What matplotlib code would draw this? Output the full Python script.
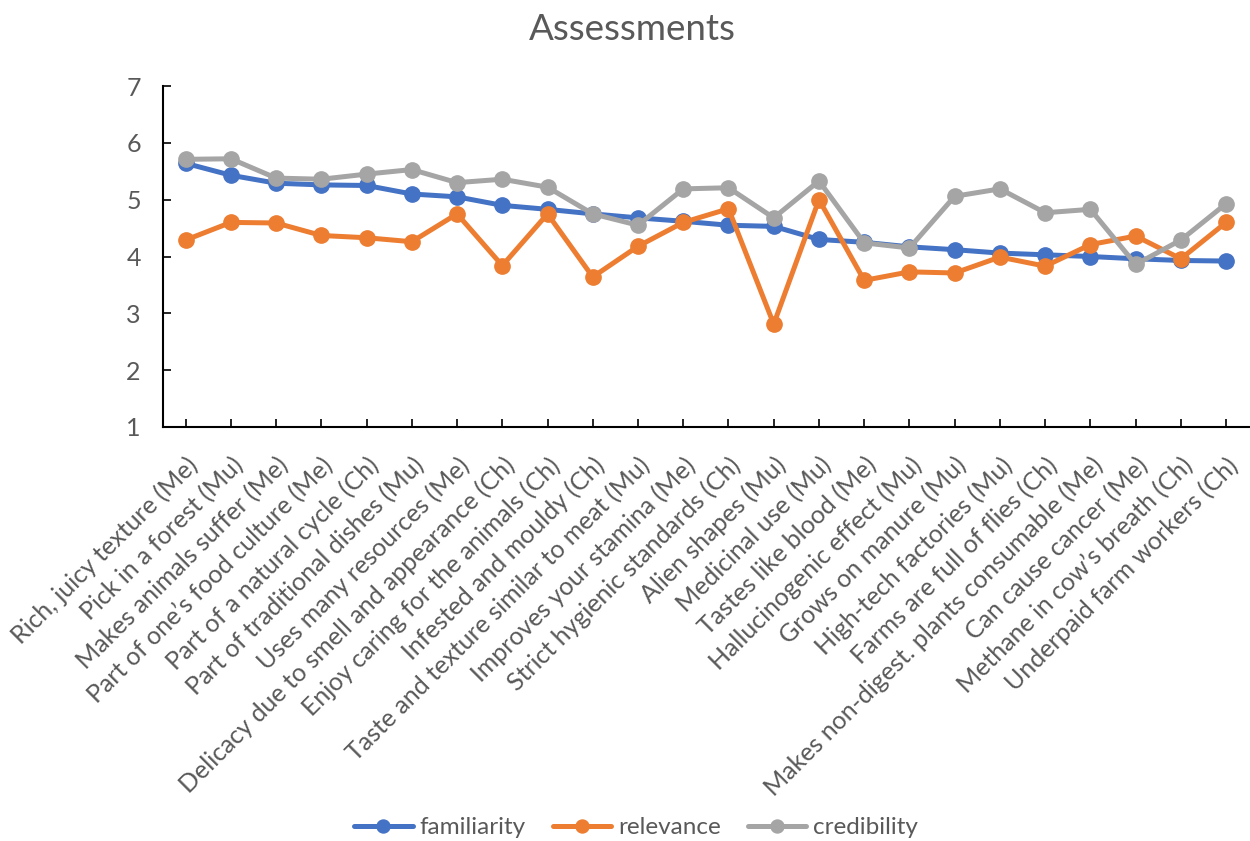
import matplotlib
matplotlib.use("Agg")
import matplotlib.pyplot as plt
import numpy as np

# === DATA ===
categories = [
    "Rich, juicy texture (Me)", "Pick in a forest (Mu)", "Makes animals suffer (Me)",
    "Part of one\u2019s food culture (Me)", "Part of a natural cycle (Ch)",
    "Part of traditional dishes (Mu)", "Uses many resources (Me)",
    "Delicacy due to smell and appearance (Ch)", "Enjoy caring for the animals (Ch)",
    "Infested and mouldy (Ch)", "Taste and texture similar to meat (Mu)",
    "Improves your stamina (Me)", "Strict hygienic standards (Ch)", "Alien shapes (Mu)",
    "Medicinal use (Mu)", "Tastes like blood (Me)", "Hallucinogenic effect (Mu)",
    "Grows on manure (Mu)", "High-tech factories (Mu)", "Farms are full of flies (Ch)",
    "Makes non-digest. plants consumable (Me)", "Can cause cancer (Me)",
    "Methane in cow\u2019s breath (Ch)", "Underpaid farm workers (Ch)",
]
familiarity = [5.64, 5.43, 5.29, 5.26, 5.25, 5.10, 5.05, 4.90, 4.83, 4.75, 4.68, 4.62,
               4.55, 4.53, 4.30, 4.25, 4.17, 4.12, 4.06, 4.03, 4.00, 3.96, 3.93, 3.92]
relevance = [4.29, 4.60, 4.59, 4.37, 4.33, 4.26, 4.75, 3.84, 4.75, 3.64, 4.18, 4.60,
             4.84, 2.81, 5.00, 3.58, 3.73, 3.71, 3.99, 3.83, 4.21, 4.36, 3.96, 4.60]
credibility = [5.71, 5.72, 5.38, 5.36, 5.45, 5.53, 5.30, 5.36, 5.22, 4.75, 4.55, 5.19,
               5.21, 4.68, 5.33, 4.24, 4.15, 5.06, 5.19, 4.77, 4.83, 3.86, 4.29, 4.93]

series = [("familiarity", familiarity, "#4472C4"),
          ("relevance", relevance, "#ED7D31"),
          ("credibility", credibility, "#A5A5A5")]

plt.rcParams['font.family'] = ['Lato', 'DejaVu Sans']
TXT = "#595959"

fig = plt.figure(figsize=(12.5, 8.41), dpi=100)
ax = fig.add_axes([0.1304, 0.4923, 0.8686, 0.4054])

x = np.arange(len(categories))
for name, vals, col in series:
    ax.plot(x, vals, color=col, lw=3.6, marker="o", ms=11, label=name,
            solid_capstyle="round")

ax.set_xlim(-0.5, len(categories) - 0.5)
ax.set_ylim(1, 7)
ax.set_yticks(range(1, 8))
ax.set_xticks(x)
ax.set_xticklabels(categories, rotation=45, ha="right", rotation_mode="anchor")
ax.tick_params(axis="both", direction="in", length=6, width=1.2, colors="black",
               labelcolor=TXT, labelsize=18)
ax.tick_params(axis="y", pad=16)
ax.tick_params(axis="x", pad=19)
for s in ["top", "right"]:
    ax.spines[s].set_visible(False)
for s in ["left", "bottom"]:
    ax.spines[s].set_linewidth(1.5)

fig.text(0.506, 0.965, "Assessments", ha="center", va="center", fontsize=26.5, color=TXT)

ax.legend(loc="center", bbox_to_anchor=(0.509, 0.0155), bbox_transform=fig.transFigure,
          ncol=3, frameon=False, fontsize=17.5, labelcolor=TXT, handlelength=2.4,
          handletextpad=0.3, columnspacing=1.1, markerscale=0.85)

fig.savefig("out.png", dpi=100)
